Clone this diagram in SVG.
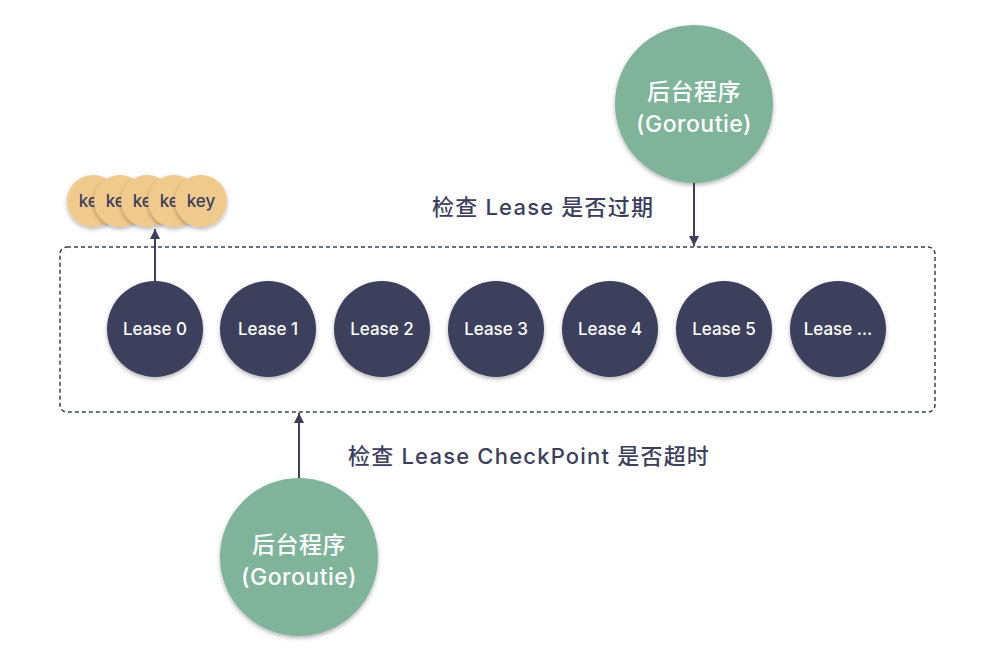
<svg xmlns="http://www.w3.org/2000/svg" width="995" height="660" viewBox="0 0 995 660">
<defs>
<filter id="sh" x="-20%" y="-20%" width="140%" height="150%">
<feDropShadow dx="0" dy="2" stdDeviation="2" flood-color="#000" flood-opacity="0.3"/>
</filter>
<marker id="ah" viewBox="0 0 10 10" refX="10" refY="5" markerWidth="10" markerHeight="10" markerUnits="userSpaceOnUse" orient="auto">
<path d="M0,0 L10,5 L0,10 z" fill="#3c3f5c"/>
</marker>
<style>
.lease{fill:#3c3f5c;filter:url(#sh)}
.key{fill:#f0c98c;filter:url(#sh)}
.gor{fill:#7fb39a;filter:url(#sh)}
text{font-family:Inter,"Noto Sans CJK SC","Noto Sans",sans-serif;font-weight:500}
.lt{fill:#fff;font-size:17px;text-anchor:middle}
.kt{fill:#3c3f5c;font-size:17px;text-anchor:middle}
.gt{fill:#fff;font-size:23px;text-anchor:middle;letter-spacing:0.5px}
.lab{fill:#3c3f5c;font-size:22px;letter-spacing:1.2px}
.cn{stroke:#3c3f5c;stroke-width:2;fill:none;marker-end:url(#ah)}
</style>
</defs>
<rect width="995" height="660" fill="#fff"/>
<g id="container">
<rect x="60" y="247" width="875" height="165" rx="7" fill="none" stroke="#3c3f5c" stroke-width="1.5" stroke-dasharray="4,3"/>
</g>
<g id="keys">
<g id="key1"><circle class="key" cx="93" cy="201" r="26"/><text class="kt" x="93" y="207">key</text></g>
<g id="key2"><circle class="key" cx="120" cy="201" r="26"/><text class="kt" x="120" y="207">key</text></g>
<g id="key3"><circle class="key" cx="147" cy="201" r="26"/><text class="kt" x="147" y="207">key</text></g>
<g id="key4"><circle class="key" cx="174" cy="201" r="26"/><text class="kt" x="174" y="207">key</text></g>
<g id="key5"><circle class="key" cx="201" cy="201" r="26"/><text class="kt" x="201" y="207">key</text></g>
</g>
<g id="lease0"><circle class="lease" cx="155" cy="329" r="48"/><text class="lt" x="155" y="335">Lease 0</text></g>
<g id="lease1"><circle class="lease" cx="268" cy="329" r="48"/><text class="lt" x="268" y="335">Lease 1</text></g>
<g id="lease2"><circle class="lease" cx="382" cy="329" r="48"/><text class="lt" x="382" y="335">Lease 2</text></g>
<g id="lease3"><circle class="lease" cx="496" cy="329" r="48"/><text class="lt" x="496" y="335">Lease 3</text></g>
<g id="lease4"><circle class="lease" cx="610" cy="329" r="48"/><text class="lt" x="610" y="335">Lease 4</text></g>
<g id="lease5"><circle class="lease" cx="724" cy="329" r="48"/><text class="lt" x="724" y="335">Lease 5</text></g>
<g id="leaseN"><circle class="lease" cx="838" cy="329" r="48"/><text class="lt" x="838" y="335">Lease …</text></g>
<g id="goroutine-top"><circle class="gor" cx="694" cy="104" r="79"/><text class="gt" x="694" y="100">后台程序</text><text class="gt" x="694" y="132">(Goroutie)</text></g>
<g id="goroutine-bottom"><circle class="gor" cx="299" cy="557" r="79"/><text class="gt" x="299" y="553">后台程序</text><text class="gt" x="299" y="585">(Goroutie)</text></g>
<g id="labels">
<text class="lab" x="432" y="215">检查 Lease 是否过期</text>
<text class="lab" x="348" y="464">检查 Lease CheckPoint 是否超时</text>
</g>
<g id="connectors">
<line class="cn" x1="155" y1="281" x2="155" y2="229"/>
<line class="cn" x1="694" y1="183" x2="694" y2="246"/>
<line class="cn" x1="299" y1="478" x2="299" y2="413"/>
</g>
</svg>
